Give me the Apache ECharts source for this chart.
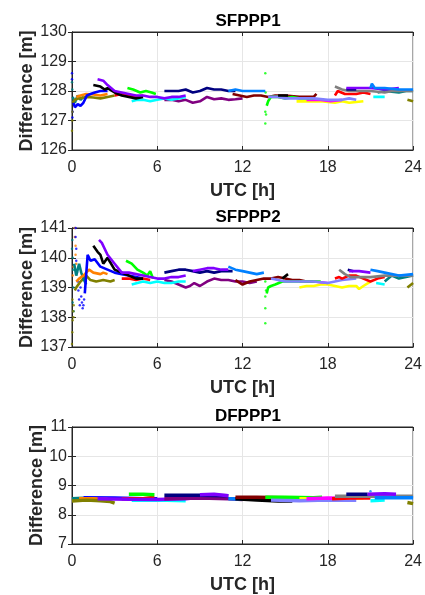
<!DOCTYPE html>
<html>
<head>
<meta charset="utf-8">
<script src="https://cdn.jsdelivr.net/npm/echarts@6/dist/echarts.min.js"></script>
<style>
  html, body { margin: 0; padding: 0; background: #fff; }
  #main { width: 425px; height: 595px; }
</style>
</head>
<body>
<div id="main"></div>
<script>
// tick labels
const xTicks = [0, 6, 12, 18, 24];
const titles = ['SFPPP1', 'SFPPP2', 'DFPPP1'];
const yRanges = [[126, 130], [137, 141], [7, 11]];

// colours used by the satellite passes
const C = {
  blue: '#0000ff', orange: '#ff8000', olive: '#808000', teal: '#008080',
  black: '#000000', violet: '#8000ff', green: '#00ff00', red: '#ff0000',
  cyan: '#00ffff', navy: '#000080', dodger: '#0080ff', maroon: '#800000',
  purple: '#800080', slate: '#8080ff', yellow: '#ffff00', magenta: '#ff00ff',
  gray: '#808080'
};

// ---- SFPPP1 ----
const p1Blue = [[0.1,127.6],[0.2,127.45],[0.4,127.55],[0.6,127.5],[0.8,127.6],[0.9,127.55],[1.05,127.85],[1.3,127.9],[1.6,127.95],[2.0,128.0],[2.5,128.0]];
const p1BlueDots = [[0,128.6],[0,128.4],[0.03,127.1],[0.05,127.3]];
const p1Orange = [[0.3,127.8],[0.6,127.85],[1.0,127.9],[1.5,127.88],[2.0,127.85],[2.5,127.9]];
const p1Olive = [[0.05,127.6],[0.2,127.7],[0.5,127.75],[1,127.8],[1.5,127.78],[2,127.75],[2.5,127.8],[3,127.85]];
const p1OliveDots = [[0,126.65],[0.02,127.0],[0.03,127.3]];
const p1Teal = [[0.05,127.8],[0.2,127.6],[0.4,127.85],[0.6,127.7],[0.8,127.8]];
const p1TealDots = [[0,128.3],[0.02,128.05]];
const p1Black = [[1.5,128.2],[2.0,128.15],[2.3,128.05],[2.5,128.1],[3.0,127.95],[3.5,127.85],[4.0,127.8],[4.5,127.75],[5.0,127.8]];
const p1Violet = [[1.8,128.4],[2.2,128.35],[2.5,128.2],[3.0,128.0],[3.5,127.95],[4.0,127.9],[4.5,127.85],[5.0,127.85],[5.5,127.8],[6.0,127.8],[6.5,127.75],[7.0,127.8],[7.5,127.8],[8.0,127.85]];
const p1Green = [[3.9,128.1],[4.3,128.05],[4.8,127.95],[5.2,128.0],[5.6,127.95],[5.9,127.9]];
const p1Red = [[3.0,127.85],[3.5,127.9],[4.0,127.85],[4.5,127.8],[5.0,127.85]];
const p1Cyan = [[4.2,127.65],[4.6,127.7],[5.0,127.7],[5.5,127.65],[6.0,127.7],[6.5,127.75],[7.0,127.7],[7.5,127.75],[8.0,127.8]];
const p1Navy = [[6.5,128.0],[7.5,128.0],[8.0,128.05],[8.5,127.95],[9.0,128.0],[9.5,128.1],[10,128.05],[10.5,128.05],[11,128.0],[11.5,128.0]];
const p1Purple = [[6.5,127.7],[7,127.7],[7.5,127.65],[8,127.7],[8.5,127.6],[9,127.65],[9.5,127.8],[10,127.72],[10.5,127.75],[11,127.7],[11.5,127.72],[12,127.75]];
const p1Dodger = [[11,128.0],[11.5,128.05],[12,128.0],[12.5,128.0],[13,128.0],[13.6,128.0]];
const p1Maroon = [[11.3,127.9],[11.8,127.85],[12.3,127.8],[12.8,127.85],[13.3,127.85],[13.8,127.8],[14.3,127.85],[15,127.85],[16,127.8],[17,127.8],[17.2,127.9]];
const p1Green2 = [[13.7,127.5],[13.8,127.65],[14.0,127.8],[14.5,127.8],[15,127.75],[15.5,127.8],[16,127.75],[17,127.75]];
const p1GreenDots = [[13.6,128.6],[13.62,127.95],[13.6,127.3],[13.6,126.9],[13.65,127.2]];
const p1Black2 = [[14.5,127.85],[15.2,127.85]];
const p1Slate = [[13.8,127.8],[14.5,127.8],[15,127.75],[16,127.75],[17,127.75],[18,127.7],[19,127.7],[19.5,127.75],[20,127.7]];
const p1Yellow = [[15.8,127.65],[16.5,127.65],[17.5,127.65],[18.5,127.6],[19,127.65],[19.5,127.6],[20.5,127.65]];
const p1Magenta = [[16.5,127.7],[17.5,127.7],[18.2,127.65],[19,127.7]];
const p1Red2 = [[18.5,127.85],[18.7,128.0],[19.2,127.9],[20,127.9],[20.5,127.95],[21,127.9]];
const p1Gray = [[18.5,128.15],[19,128.05],[19.5,128.0],[20,128.0],[21,128.0],[22,127.95],[22.5,128.0],[23,128.0],[24,128.0]];
const p1Violet2 = [[19.3,128.1],[20,128.1],[21,128.1],[22,128.05],[23,128.1]];
const p1Navy2 = [[19.3,128.05],[20,128.05]];
const p1Dodger2 = [[21,128.1],[21.1,128.25],[21.3,128.1],[22,128.1],[23,128.05],[24,128.05]];
const p1Cyan2 = [[21.2,127.8],[22,127.8]];
const p1Teal2 = [[21.5,127.95],[22,128.0],[23,127.95],[23.5,128.0],[24,128.0]];
const p1Olive2 = [[23.6,127.7],[24,127.65]];

// ---- SFPPP2 ----
const p2Blue = [[0.9,138.8],[1.1,140.1],[1.3,139.9],[1.6,139.95],[2.0,139.7],[2.5,139.6],[3.0,139.5],[3.5,139.45],[4.0,139.4],[4.5,139.35],[5.0,139.3]];
const p2BlueDots = [[0.25,141],[0.25,140.7],[0.3,140.3],[0.3,139.9],[0.35,139.5],[0.4,139.2],[0.45,138.9],[0.5,138.6],[0.55,138.4],[0.6,139.0],[0.65,138.7],[0.7,138.5],[0.75,138.3],[0.8,138.4],[0.85,138.6]];
const p2Orange = [[0.3,139.2],[0.5,139.3],[0.8,139.4],[1.2,139.6],[1.5,139.5],[2.0,139.45],[2.2,139.5],[2.5,139.45]];
const p2OrangeDots = [[0.2,141],[0.2,140.7],[0.25,140.4],[0.25,140.1],[0.3,139.8],[0.3,139.5],[0.05,139.4],[0.1,139.7]];
const p2Olive = [[0.2,138.9],[0.3,139.0],[0.6,139.2],[0.8,139.3],[1.0,139.4],[1.3,139.25],[1.7,139.2],[2.2,139.25],[2.7,139.2],[3.0,139.25]];
const p2OliveDots = [[0,137.1],[0.02,137.5],[0.05,137.9],[0.08,138.2],[0.03,138.6],[0.1,138.0],[0.12,138.4]];
const p2Teal = [[0.15,139.8],[0.3,139.4],[0.5,139.8],[0.65,139.5],[0.8,139.3],[1.0,139.1]];
const p2TealDots = [[0,140.3],[0.02,140.6],[0.05,140.0],[0.08,139.6],[0.1,139.0],[0.05,138.5],[0.12,138.2]];
const p2Black = [[1.5,140.4],[1.8,140.2],[2.0,140.1],[2.2,139.8],[2.5,140.0],[3.0,139.6],[3.5,139.5],[4.0,139.4],[4.5,139.3],[5.0,139.3]];
const p2Violet = [[1.9,140.6],[2.1,140.5],[2.5,140.1],[3.0,139.8],[3.5,139.5],[4.0,139.5],[4.5,139.45],[5.0,139.4],[5.5,139.35],[6.0,139.3],[6.5,139.3],[7.0,139.35],[7.5,139.35],[8.0,139.4]];
const p2Green = [[3.8,139.9],[4.2,139.8],[4.6,139.6],[5.0,139.5],[5.3,139.4],[5.5,139.55],[5.7,139.3]];
const p2Red = [[3.5,139.3],[4.0,139.3],[4.5,139.25],[5.0,139.3],[5.5,139.25]];
const p2Cyan = [[4.2,139.1],[4.6,139.15],[5.0,139.2],[5.5,139.15],[6.0,139.2],[6.5,139.15],[7.0,139.15],[7.5,139.2],[8.0,139.2]];
const p2Navy = [[6.5,139.5],[7.0,139.55],[7.5,139.6],[8.0,139.6],[8.5,139.55],[9.0,139.5],[9.5,139.55],[10,139.5],[10.5,139.55],[11.3,139.55]];
const p2Violet2 = [[8.5,139.55],[9.0,139.6],[9.5,139.65],[10,139.65],[10.5,139.6],[11,139.6]];
const p2Purple = [[6.5,139.25],[7.0,139.2],[7.5,139.1],[8.0,139.0],[8.3,139.05],[8.6,139.15],[9.0,139.05],[9.5,139.2],[10,139.3],[10.5,139.25],[11,139.25],[11.5,139.2],[12,139.2],[12.5,139.15],[13,139.2]];
const p2Dodger = [[11,139.7],[11.5,139.6],[12,139.55],[12.5,139.5],[13,139.45],[13.5,139.5]];
const p2Maroon = [[11.5,139.25],[12,139.1],[12.5,139.2],[13,139.25],[13.5,139.3],[14,139.3],[14.5,139.35],[15,139.3],[15.5,139.25],[16,139.25],[16.5,139.2],[17,139.2]];
const p2Green2 = [[13.7,138.8],[13.8,139.0],[14.0,139.05],[14.3,139.1],[14.8,139.2],[15.5,139.2],[16.5,139.2],[17.5,139.2]];
const p2GreenDots = [[13.6,139.2],[13.6,138.7],[13.6,138.3],[13.6,137.8],[13.65,138.9]];
const p2Black2 = [[14.8,139.3],[15.2,139.45]];
const p2Slate = [[14.0,139.3],[14.5,139.25],[15,139.2],[16,139.2],[17,139.2],[18,139.15],[18.5,139.2],[19,139.25],[20,139.3]];
const p2Yellow = [[16,139.0],[16.5,139.05],[17,139.05],[17.5,139.1],[18,139.1],[18.5,139.05],[19,139.0],[19.5,139.05],[20,139.05],[20.2,138.95],[20.5,139.05],[21,139.2]];
const p2Magenta = [[16,139.2],[17,139.2],[18,139.15]];
const p2Red2 = [[18.5,139.3],[18.8,139.35],[19,139.3],[19.5,139.4],[20,139.4],[20.5,139.3],[21,139.2],[21.5,139.3],[22,139.35]];
const p2Gray = [[18.8,139.6],[19.2,139.45],[19.6,139.35],[20,139.35],[21,139.35],[22,139.4],[23,139.4],[24,139.4]];
const p2Navy2 = [[19.4,139.6],[19.8,139.55]];
const p2Violet3 = [[19.5,139.55],[20.2,139.55],[21,139.5]];
const p2Dodger2 = [[21,139.6],[21.5,139.55],[22,139.5],[23,139.4],[24,139.45]];
const p2Cyan2 = [[21.4,139.15],[22,139.1]];
const p2Teal2 = [[22,139.2],[22.5,139.4],[23,139.3],[23.5,139.35],[24,139.4]];
const p2Olive2 = [[23.6,139.0],[24,139.15]];

// ---- DFPPP1 ----
const p3Olive = [[0,8.47],[1,8.5],[2,8.48],[2.7,8.45],[3,8.4]];
const p3Orange = [[0.5,8.55],[1.5,8.55],[2.5,8.53]];
const p3Teal = [[0,8.55],[0.8,8.56]];
const p3Blue = [[0.8,8.58],[3,8.57],[5,8.55],[6,8.55]];
const p3Green = [[4,8.7],[5,8.7],[5.8,8.68]];
const p3Violet = [[1.8,8.55],[4,8.53],[6,8.52],[8,8.55],[9,8.6],[10,8.6]];
const p3Red = [[3.5,8.55],[5,8.55],[5.8,8.6]];
const p3Cyan = [[4.2,8.5],[6,8.5],[8,8.48]];
const p3Navy = [[6.5,8.67],[9,8.67],[11,8.65]];
const p3Violet2 = [[9,8.68],[10,8.7],[11,8.65]];
const p3Purple = [[6.5,8.55],[9,8.57],[11,8.55],[12,8.52]];
const p3Maroon = [[11.5,8.6],[13,8.6],[15,8.58],[17,8.57],[17.5,8.58]];
const p3Black = [[11.5,8.55],[13,8.5],[14.5,8.47],[15.5,8.47]];
const p3Dodger = [[11,8.55],[12.5,8.53],[13.5,8.53]];
const p3Green2 = [[13.6,8.6],[15,8.6],[17,8.58],[17.6,8.6]];
const p3Slate = [[14,8.5],[16,8.48],[18,8.5],[20,8.5]];
const p3Magenta = [[16.5,8.55],[18,8.57],[19,8.56]];
const p3Red2 = [[18.3,8.55],[20,8.58],[21,8.57]];
const p3Yellow = [[16,8.55],[19,8.55],[20.5,8.58]];
const p3Gray = [[18.5,8.63],[21,8.63],[24,8.63]];
const p3Navy2 = [[19.3,8.7],[20.8,8.7]];
const p3Violet3 = [[20.8,8.7],[22,8.72],[22.8,8.7]];
const p3Dodger2 = [[21.3,8.58],[22,8.58],[24,8.58]];
const p3DodgerDots = [[21,8.8]];
const p3Cyan2 = [[21,8.48],[22,8.5]];
const p3Olive2 = [[23.6,8.42],[24,8.38]];

const plots = [
  { lines: [[p1Purple,C.purple],[p1Navy,C.navy],[p1Cyan,C.cyan],[p1Teal,C.teal],[p1Olive,C.olive],[p1Orange,C.orange],[p1Blue,C.blue],[p1Red,C.red],[p1Green,C.green],[p1Black,C.black],[p1Violet,C.violet],[p1Dodger,C.dodger],[p1Maroon,C.maroon],[p1Yellow,C.yellow],[p1Magenta,C.magenta],[p1Green2,C.green],[p1Slate,C.slate],[p1Black2,C.black],[p1Red2,C.red],[p1Cyan2,C.cyan],[p1Teal2,C.teal],[p1Gray,C.gray],[p1Navy2,C.navy],[p1Violet2,C.violet],[p1Dodger2,C.dodger],[p1Olive2,C.olive]],
    dots: [[p1GreenDots,C.green],[p1BlueDots,C.blue],[p1OliveDots,C.olive],[p1TealDots,C.teal]] },
  { lines: [[p2Purple,C.purple],[p2Cyan,C.cyan],[p2Olive,C.olive],[p2Teal,C.teal],[p2Orange,C.orange],[p2Blue,C.blue],[p2Red,C.red],[p2Green,C.green],[p2Black,C.black],[p2Violet,C.violet],[p2Navy,C.navy],[p2Violet2,C.violet],[p2Dodger,C.dodger],[p2Maroon,C.maroon],[p2Yellow,C.yellow],[p2Magenta,C.magenta],[p2Green2,C.green],[p2Slate,C.slate],[p2Black2,C.black],[p2Red2,C.red],[p2Cyan2,C.cyan],[p2Teal2,C.teal],[p2Gray,C.gray],[p2Navy2,C.navy],[p2Violet3,C.violet],[p2Dodger2,C.dodger],[p2Olive2,C.olive]],
    dots: [[p2OrangeDots,C.orange],[p2TealDots,C.teal],[p2BlueDots,C.blue],[p2OliveDots,C.olive],[p2GreenDots,C.green]] },
  { lines: [[p3Cyan,C.cyan],[p3Teal,C.teal],[p3Blue,C.blue],[p3Orange,C.orange],[p3Olive,C.olive],[p3Red,C.red],[p3Green,C.green],[p3Violet,C.violet],[p3Purple,C.purple],[p3Navy,C.navy],[p3Violet2,C.violet],[p3Dodger,C.dodger],[p3Black,C.black],[p3Maroon,C.maroon],[p3Green2,C.green],[p3Yellow,C.yellow],[p3Slate,C.slate],[p3Magenta,C.magenta],[p3Red2,C.red],[p3Cyan2,C.cyan],[p3Gray,C.gray],[p3Dodger2,C.dodger],[p3Navy2,C.navy],[p3Violet3,C.violet],[p3Olive2,C.olive]],
    dots: [[p3DodgerDots,C.dodger]] }
];

const gridTops = [32, 228, 427];
const gridH = [118, 119, 117];
const yNameGaps = [36, 36, 26];
const font = 'Liberation Sans, Arial, sans-serif';
const axisCol = '#262626';

const chart = echarts.init(document.getElementById('main'), null, { renderer: 'canvas' });

const grid = [], xAxis = [], yAxis = [], series = [], title = [];
plots.forEach((p, i) => {
  grid.push({ left: 72, right: 11, top: gridTops[i], height: gridH[i], show: true, borderColor: axisCol, borderWidth: 1 });
  title.push({
    text: titles[i], left: 243, top: gridTops[i] - 24, textAlign: 'center',
    textStyle: { fontFamily: font, fontSize: 17, fontWeight: 'bold', color: '#000' }
  });
  xAxis.push({
    type: 'value', gridIndex: i, min: 0, max: 24, interval: 6,
    name: 'UTC [h]', nameLocation: 'middle', nameGap: 32, nameMoveOverlap: false,
    nameTextStyle: { fontFamily: font, fontSize: 18, fontWeight: 'bold', color: axisCol },
    axisLine: { show: true, lineStyle: { color: axisCol } },
    axisTick: { show: true, inside: true, length: 4, lineStyle: { color: axisCol } },
    axisLabel: { fontFamily: font, fontSize: 16, color: axisCol, margin: 10, formatter: v => xTicks.includes(v) ? String(v) : '' },
    splitLine: { show: true, lineStyle: { color: '#e6e6e6' } }
  });
  xAxis.push({
    type: 'value', gridIndex: i, position: 'top', min: 0, max: 24, interval: 6,
    axisLine: { show: true, lineStyle: { color: axisCol } },
    axisTick: { show: true, inside: true, length: 4, lineStyle: { color: axisCol } },
    axisLabel: { show: false }, splitLine: { show: false }
  });
  yAxis.push({
    type: 'value', gridIndex: i, min: yRanges[i][0], max: yRanges[i][1], interval: 1,
    name: 'Difference [m]', nameLocation: 'middle', nameGap: yNameGaps[i], nameMoveOverlap: false,
    nameTextStyle: { fontFamily: font, fontSize: 18, fontWeight: 'bold', color: axisCol },
    axisLine: { show: true, lineStyle: { color: axisCol } },
    axisTick: { show: true, inside: true, length: 4, lineStyle: { color: axisCol } },
    axisLabel: { fontFamily: font, fontSize: 16, color: axisCol, margin: 5 },
    splitLine: { show: true, lineStyle: { color: '#e6e6e6' } }
  });
  yAxis.push({
    type: 'value', gridIndex: i, position: 'right', min: yRanges[i][0], max: yRanges[i][1], interval: 1,
    axisLine: { show: true, lineStyle: { color: axisCol } },
    axisTick: { show: true, inside: true, length: 4, lineStyle: { color: axisCol } },
    axisLabel: { show: false }, splitLine: { show: false }
  });
  const lw = i === 2 ? 3.5 : 2.6;
  p.lines.forEach(([d, c]) => {
    series.push({
      type: 'line', xAxisIndex: i * 2, yAxisIndex: i * 2, data: d,
      showSymbol: false, smooth: false, silent: true,
      lineStyle: { color: c, width: lw }
    });
  });
  p.dots.forEach(([d, c]) => {
    series.push({
      type: 'scatter', xAxisIndex: i * 2, yAxisIndex: i * 2, data: d,
      symbolSize: 2.5, silent: true, itemStyle: { color: c }
    });
  });
});

chart.setOption({ animation: false, title, grid, xAxis, yAxis, series });
</script>
</body>
</html>
